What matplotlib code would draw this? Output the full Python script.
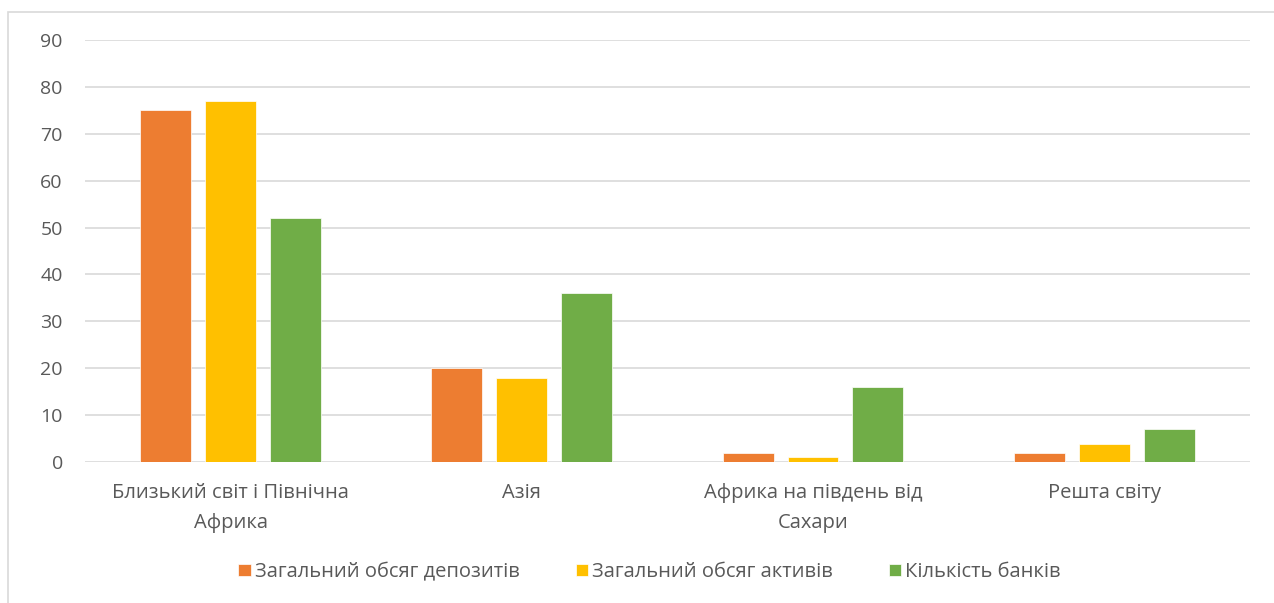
import numpy as np
import matplotlib.pyplot as plt
from matplotlib.patches import Rectangle

# data
regions = ["Близький світ і Північна\nАфрика", "Азія", "Африка на південь від\nСахари", "Решта світу"]
deposits = [75, 20, 2, 2]
assets = [77, 18, 1, 3.8]
banks = [52, 36, 16, 7]
series_names = ["Загальний обсяг депозитів", "Загальний обсяг активів", "Кількість банків"]
colors = ["#ED7D31", "#FFC000", "#70AD47"]

plt.rcParams['font.family'] = ['Open Sans', 'DejaVu Sans']

fig = plt.figure(figsize=(12.74, 6.03), dpi=100)
ax = fig.add_axes([0.0667, 0.2338, 0.9143, 0.70])

# chart frame
fig.patches.append(Rectangle((8 / 1274, -0.01), 1.1, 1 - 12 / 603 + 0.01, transform=fig.transFigure,
                             fill=False, edgecolor="#D9D9D9", linewidth=1.2))

x = np.arange(len(regions))
w = 0.175
off = 0.223
for i, (vals, name, c) in enumerate(zip([deposits, assets, banks], series_names, colors)):
    ax.bar(x + (i - 1) * off, vals, width=w, color=c, label=name, edgecolor="white", linewidth=0.5, zorder=3)

ax.set_xlim(-0.5, 3.5)
ax.set_ylim(0, 90)
ax.set_yticks(range(0, 91, 10))
ax.grid(axis="y", color="#D9D9D9", linewidth=1.2, zorder=0)
for s in ax.spines.values():
    s.set_visible(False)
ax.tick_params(axis="y", length=0, labelsize=14, labelcolor="#595959", pad=16)
ax.tick_params(axis="x", length=0, labelsize=14.5, labelcolor="#595959", pad=15)
ax.set_xticks(x)
ax.set_xticklabels(regions, linespacing=1.65)

leg = fig.legend(loc="center", bbox_to_anchor=(0.51, 1 - 572 / 603), ncol=3, frameon=False,
                 fontsize=14.5, handlelength=0.6, handleheight=0.6, handletextpad=0.2, columnspacing=2.8)
for t in leg.get_texts():
    t.set_color("#595959")

fig.savefig("out.png", dpi=100)
